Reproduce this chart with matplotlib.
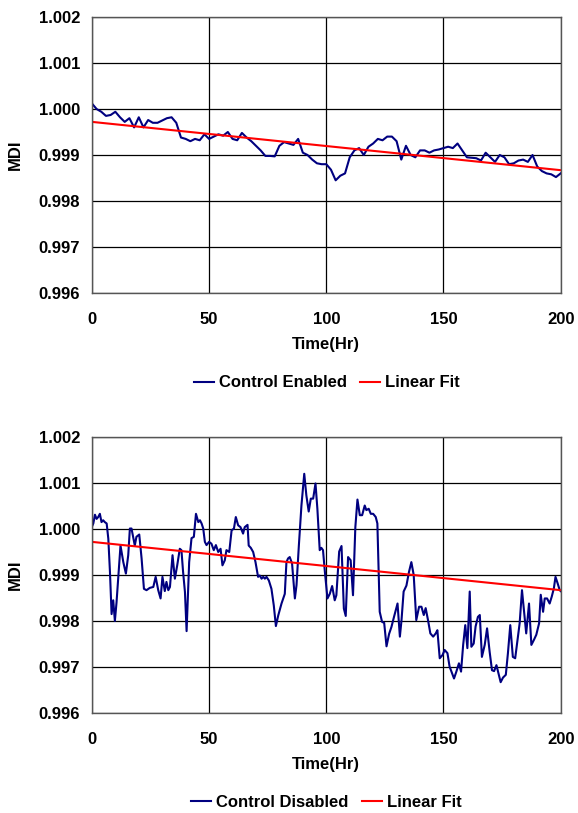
import matplotlib
matplotlib.use("Agg")
import matplotlib.pyplot as plt

plt.rcParams["font.family"] = ["Liberation Sans", "DejaVu Sans"]
plt.rcParams["font.weight"] = "bold"

# Control enabled run, sampled every 2 hours
hours_on = list(range(0, 201, 2))
mdi_on = [
    1.00012, 1.00000, 0.99994, 0.99985, 0.99987, 0.99994, 0.99982, 0.99972, 0.99980, 0.99960,
    0.99982, 0.99960, 0.99976, 0.99970, 0.99970, 0.99975, 0.99980, 0.99982, 0.99970, 0.99938,
    0.99935, 0.99930, 0.99935, 0.99932, 0.99945, 0.99935, 0.99940, 0.99945, 0.99942, 0.99950,
    0.99935, 0.99932, 0.99948, 0.99938, 0.99930, 0.99920, 0.99910, 0.99898, 0.99898, 0.99897,
    0.99920, 0.99928, 0.99925, 0.99922, 0.99935, 0.99905, 0.99900, 0.99890, 0.99882, 0.99880,
    0.99880, 0.99868, 0.99845, 0.99855, 0.99860, 0.99895, 0.99910, 0.99915, 0.99900, 0.99918,
    0.99925, 0.99935, 0.99932, 0.99940, 0.99940, 0.99930, 0.99890, 0.99920, 0.99900, 0.99895,
    0.99910, 0.99910, 0.99905, 0.99910, 0.99912, 0.99915, 0.99918, 0.99915, 0.99925, 0.99910,
    0.99895, 0.99894, 0.99893, 0.99888, 0.99905, 0.99895, 0.99885, 0.99900, 0.99895, 0.99880,
    0.99882, 0.99888, 0.99890, 0.99885, 0.99900, 0.99875, 0.99865, 0.99860, 0.99858, 0.99852,
    0.99860,
]

# Control disabled run
hours_off = [
    0, 0.6, 1.3, 2.0, 2.7, 3.4, 4.1, 4.8, 5.5, 6.3, 7.0, 7.7, 8.4, 9.1, 9.8, 10.5, 11.2, 12.2,
    13.4, 14.5, 15.5, 16.2, 16.9, 17.6, 18.3, 19.0, 20.2, 21.2, 22.2, 23.3, 24.7, 26.2, 27.2,
    28.3, 29.3, 30.1, 31.1, 31.8, 32.6, 33.3, 34.4, 35.4, 36.4, 37.5, 38.2, 38.9, 39.7, 40.4,
    41.5, 42.5, 43.5, 44.4, 45.4, 46.1, 46.8, 47.5, 48.2, 48.9, 50.0, 51.0, 52.0, 52.9, 53.9,
    54.9, 55.7, 56.7, 57.4, 58.6, 59.6, 60.6, 61.4, 62.4, 63.4, 64.5, 65.2, 66.4, 66.9, 67.8,
    68.8, 69.8, 70.9, 71.6, 72.4, 73.1, 73.8, 74.5, 75.5, 76.6, 77.6, 78.5, 79.5, 80.9, 82.3,
    83.0, 83.7, 84.4, 85.4, 86.6, 87.3, 88.3, 89.4, 90.6, 91.5, 92.5, 93.4, 94.4, 95.4, 96.2,
    97.2, 97.9, 98.6, 99.4, 100.5, 101.5, 102.5, 103.6, 104.3, 105.5, 106.5, 107.5, 108.3,
    109.3, 110.4, 111.4, 112.4, 113.3, 114.3, 115.3, 116.4, 117.1, 118.1, 119.0, 120.0, 121.1,
    121.8, 122.8, 123.8, 124.7, 125.7, 126.8, 127.8, 128.9, 130.4, 131.4, 132.1, 133.0, 134.2,
    135.3, 136.3, 137.3, 138.4, 139.6, 140.6, 141.6, 142.4, 143.4, 144.4, 145.6, 146.7, 147.4,
    148.4, 149.6, 150.5, 151.7, 152.6, 153.7, 154.5, 155.5, 156.6, 157.5, 158.4, 159.3, 160.2,
    161.2, 161.9, 162.9, 163.7, 164.7, 165.5, 166.4, 167.6, 168.6, 169.7, 170.7, 171.6, 172.6,
    173.6, 174.4, 175.4, 176.6, 177.5, 178.5, 179.6, 180.6, 181.5, 182.5, 183.5, 184.6, 185.3,
    186.5, 187.5, 188.6, 189.6, 190.8, 191.5, 192.5, 193.2, 194.2, 195.3, 196.2, 197.1, 197.8,
    198.7, 199.6, 200,
]
mdi_off = [
    1.00005, 1.00012, 1.00031, 1.00022, 1.00026, 1.00033, 1.00015, 1.00019, 1.00015, 1.00012,
    0.99979, 0.99907, 0.99815, 0.99845, 0.99800, 0.99840, 0.99892, 0.99964, 0.99928, 0.99903,
    0.99943, 1.00001, 1.00001, 0.99983, 0.99964, 0.99983, 0.99988, 0.99936, 0.99870, 0.99867,
    0.99872, 0.99874, 0.99896, 0.99867, 0.99849, 0.99896, 0.99865, 0.99885, 0.99867, 0.99874,
    0.99943, 0.99892, 0.99921, 0.99957, 0.99954, 0.99907, 0.99863, 0.99778, 0.99928, 0.99980,
    0.99983, 1.00033, 1.00015, 1.00019, 1.00012, 1.00001, 0.99972, 0.99965, 0.99972, 0.99968,
    0.99954, 0.99965, 0.99950, 0.99957, 0.99921, 0.99932, 0.99954, 0.99950, 0.99997, 1.00001,
    1.00026, 1.00008, 1.00004, 0.99990, 1.00004, 1.00009, 0.99964, 0.99959, 0.99950, 0.99928,
    0.99896, 0.99899, 0.99892, 0.99896, 0.99892, 0.99896, 0.99888, 0.99870, 0.99834, 0.99789,
    0.99812, 0.99838, 0.99859, 0.99928, 0.99936, 0.99939, 0.99925, 0.99849, 0.99878, 0.99964,
    1.00051, 1.00120, 1.00073, 1.00038, 1.00066, 1.00066, 1.00099, 1.00044, 0.99954, 0.99959,
    0.99954, 0.99907, 0.99849, 0.99859, 0.99876, 0.99845, 0.99856, 0.99951, 0.99963, 0.99827,
    0.99811, 0.99939, 0.99932, 0.99856, 1.00004, 1.00064, 1.00030, 1.00030, 1.00051, 1.00041,
    1.00044, 1.00033, 1.00033, 1.00026, 1.00012, 0.99820, 0.99798, 0.99796, 0.99745, 0.99772,
    0.99787, 0.99809, 0.99838, 0.99766, 0.99802, 0.99864, 0.99877, 0.99907, 0.99928, 0.99900,
    0.99802, 0.99831, 0.99831, 0.99813, 0.99828, 0.99802, 0.99773, 0.99766, 0.99773, 0.99780,
    0.99719, 0.99726, 0.99737, 0.99730, 0.99701, 0.99686, 0.99675, 0.99690, 0.99708, 0.99690,
    0.99748, 0.99791, 0.99741, 0.99864, 0.99744, 0.99751, 0.99788, 0.99809, 0.99813, 0.99722,
    0.99748, 0.99784, 0.99733, 0.99693, 0.99691, 0.99704, 0.99683, 0.99667, 0.99677, 0.99683,
    0.99730, 0.99791, 0.99722, 0.99719, 0.99755, 0.99795, 0.99867, 0.99809, 0.99773, 0.99838,
    0.99748, 0.99759, 0.99770, 0.99795, 0.99857, 0.99820, 0.99849, 0.99849, 0.99838, 0.99853,
    0.99871, 0.99896, 0.99882, 0.99867, 0.99865,
]

# linear fit line (same in both panels)
fit_hours = [0, 200]
fit_mdi = [0.99972, 0.99867]

y_ticks = [0.996, 0.997, 0.998, 0.999, 1.000, 1.001, 1.002]
x_ticks = [0, 50, 100, 150, 200]

fig = plt.figure(figsize=(5.78, 8.13), dpi=100)

panels = [
    (hours_on, mdi_on, "Control Enabled", [0.159, 0.6396, 0.811, 0.3395], 0.529),
    (hours_off, mdi_off, "Control Disabled", [0.159, 0.1230, 0.811, 0.3395], 0.0135),
]

for hrs, vals, name, pos, leg_y in panels:
    ax = fig.add_axes(pos)
    ax.plot(hrs, vals, color="#000080", lw=1.5, label=name)
    ax.plot(fit_hours, fit_mdi, color="#ff0000", lw=1.5, label="Linear Fit")
    ax.set_xlim(0, 200)
    ax.set_ylim(0.996, 1.002)
    ax.set_xticks(x_ticks)
    ax.set_yticks(y_ticks)
    ax.set_yticklabels(["%.3f" % t for t in y_ticks])
    ax.tick_params(length=0, labelsize=12)
    ax.tick_params(axis="y", pad=8.5)
    ax.tick_params(axis="x", pad=14)
    for lab in ax.get_xticklabels() + ax.get_yticklabels():
        lab.set_fontweight("bold")
    ax.grid(True, color="black", lw=0.9)
    ax.set_axisbelow(True)
    for sp in ax.spines.values():
        sp.set_color("#555555")
        sp.set_linewidth(1.0)
    ax.set_xlabel("Time(Hr)", fontsize=12, fontweight="bold", labelpad=7)
    ax.set_ylabel("MDI", fontsize=12, fontweight="bold", labelpad=11)
    h, l = ax.get_legend_handles_labels()
    leg = fig.legend(h, l, loc="center", bbox_to_anchor=(0.565, leg_y), ncol=2,
                     frameon=False, fontsize=12, handlelength=1.2, handletextpad=0.3,
                     columnspacing=0.8, borderaxespad=0, borderpad=0)
    for t in leg.get_texts():
        t.set_fontweight("bold")

fig.savefig("out.png", dpi=100)
